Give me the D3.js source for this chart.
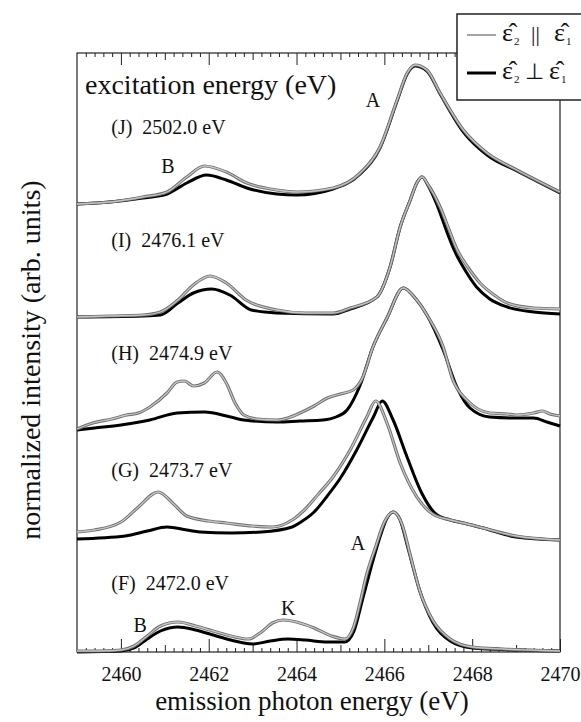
<!DOCTYPE html>
<html lang="en">
<head>
<meta charset="UTF-8">
<title>RIXS spectra</title>
<script src="https://cdn.jsdelivr.net/npm/d3@7"></script>
<style>
    html, body { margin: 0; background: #fff; overflow: hidden; }
    svg { display: block; }
    text { font-family: "Liberation Serif", "Times New Roman", serif; fill: #111; }
</style>
</head>
<body>
<div id="fig"></div>
<script>
    const width = 581, height = 722;

    // x axis
    const energyDomain = [2459, 2470];
    const majorTicks = [2460, 2462, 2464, 2466, 2468, 2470];
    const midTicks = [2461, 2463, 2465, 2467, 2469];

    // spectra, bottom to top
    const spectra = ["F", "G", "H", "I", "J"];
    const excitation = ["2472.0", "2473.7", "2474.9", "2476.1", "2502.0"];
    const baselines = [0, 1.12, 2.22, 3.35, 4.48];

    // [emission energy (eV), intensity above baseline] -- parallel (gray) / perpendicular (black)
    const fPar = [[2459.0,0.01],[2459.5,0.01],[2460.0,0.02],[2460.3,0.06],[2460.6,0.16],[2460.9,0.26],[2461.3,0.30],[2461.7,0.26],[2462.1,0.21],[2462.5,0.16],[2462.9,0.13],[2463.2,0.20],[2463.45,0.29],[2463.7,0.32],[2464.0,0.30],[2464.4,0.24],[2464.8,0.16],[2465.1,0.13],[2465.3,0.25],[2465.45,0.50],[2465.6,0.78],[2465.8,1.05],[2466.0,1.30],[2466.2,1.40],[2466.4,1.28],[2466.6,0.95],[2466.8,0.62],[2467.1,0.32],[2467.5,0.13],[2468.0,0.05],[2468.7,0.03],[2469.3,0.02],[2470.0,0.01]];
    const fPerp = [[2459.0,0.0],[2460.0,0.01],[2460.3,0.04],[2460.6,0.13],[2460.9,0.21],[2461.3,0.25],[2461.7,0.22],[2462.1,0.17],[2462.5,0.12],[2463.0,0.08],[2463.4,0.11],[2463.8,0.13],[2464.2,0.12],[2464.7,0.10],[2465.1,0.10],[2465.3,0.20],[2465.5,0.52],[2465.7,0.85],[2465.9,1.15],[2466.05,1.33],[2466.2,1.40],[2466.35,1.33],[2466.55,1.02],[2466.8,0.62],[2467.1,0.30],[2467.5,0.11],[2468.0,0.04],[2469.0,0.02],[2470.0,0.01]];

    const gPar = [[2459.0,0.08],[2459.4,0.10],[2460.0,0.18],[2460.4,0.33],[2460.85,0.48],[2461.2,0.36],[2461.5,0.24],[2462.0,0.19],[2462.4,0.17],[2463.0,0.14],[2463.45,0.13],[2463.9,0.20],[2464.2,0.31],[2464.5,0.46],[2464.83,0.63],[2465.22,0.90],[2465.6,1.23],[2465.8,1.39],[2466.06,1.17],[2466.36,0.77],[2466.74,0.43],[2467.1,0.26],[2467.5,0.20],[2467.8,0.17],[2468.25,0.12],[2469.0,0.04],[2470.0,0.0]];
    const gPerp = [[2459.0,0.01],[2460.1,0.04],[2460.6,0.09],[2461.05,0.13],[2461.5,0.10],[2461.8,0.08],[2462.5,0.07],[2463.2,0.08],[2463.9,0.13],[2464.1,0.18],[2464.4,0.28],[2464.7,0.44],[2465.0,0.62],[2465.37,0.90],[2465.75,1.23],[2465.95,1.39],[2466.2,1.20],[2466.5,0.85],[2466.85,0.47],[2467.15,0.27],[2467.5,0.20],[2467.8,0.17],[2468.25,0.12],[2469.0,0.03],[2470.0,0.0]];

    const hPar = [[2459.0,0.01],[2459.36,0.07],[2459.8,0.11],[2460.13,0.15],[2460.4,0.17],[2460.66,0.23],[2461.05,0.37],[2461.28,0.48],[2461.45,0.49],[2461.65,0.44],[2461.9,0.47],[2462.19,0.58],[2462.4,0.47],[2462.6,0.27],[2462.8,0.15],[2463.1,0.11],[2463.55,0.10],[2463.8,0.12],[2464.08,0.17],[2464.4,0.24],[2464.7,0.32],[2465.0,0.36],[2465.29,0.40],[2465.5,0.52],[2465.74,0.83],[2466.06,1.12],[2466.43,1.42],[2466.7,1.32],[2466.97,1.15],[2467.34,0.83],[2467.56,0.50],[2467.88,0.30],[2468.4,0.17],[2468.8,0.16],[2469.0,0.15],[2469.4,0.17],[2469.6,0.19],[2469.77,0.16],[2470.0,0.14]];
    const hPerp = [[2459.0,0.0],[2459.4,0.02],[2460.0,0.05],[2460.66,0.10],[2461.28,0.17],[2461.9,0.18],[2462.5,0.13],[2462.8,0.10],[2463.55,0.08],[2464.08,0.09],[2464.6,0.10],[2464.9,0.13],[2465.15,0.20],[2465.45,0.45],[2465.74,0.83],[2466.06,1.12],[2466.43,1.42],[2466.7,1.32],[2466.97,1.15],[2467.34,0.80],[2467.65,0.43],[2467.95,0.22],[2468.4,0.13],[2469.0,0.12],[2469.4,0.12],[2469.7,0.08],[2470.0,0.04]];

    const iPar = [[2459.0,0.0],[2459.75,0.01],[2460.5,0.02],[2460.9,0.05],[2461.3,0.17],[2461.65,0.32],[2462.03,0.41],[2462.4,0.34],[2462.85,0.17],[2463.55,0.07],[2464.2,0.04],[2464.83,0.04],[2465.22,0.09],[2465.83,0.20],[2466.13,0.50],[2466.36,0.90],[2466.59,1.17],[2466.75,1.35],[2466.86,1.40],[2467.0,1.32],[2467.27,1.10],[2467.45,0.90],[2467.66,0.67],[2467.9,0.50],[2468.18,0.34],[2468.5,0.22],[2468.8,0.14],[2469.4,0.09],[2470.0,0.08]];
    const iPerp = [[2459.0,0.0],[2460.5,0.01],[2460.9,0.02],[2461.3,0.14],[2461.65,0.24],[2462.07,0.28],[2462.48,0.22],[2462.97,0.07],[2463.55,0.04],[2464.83,0.03],[2465.22,0.08],[2465.83,0.20],[2466.13,0.50],[2466.36,0.90],[2466.59,1.17],[2466.75,1.35],[2466.86,1.40],[2467.0,1.31],[2467.2,1.12],[2467.4,0.88],[2467.6,0.66],[2467.85,0.46],[2468.1,0.30],[2468.4,0.18],[2468.8,0.10],[2469.4,0.05],[2470.0,0.03]];

    const jPar = [[2459.0,0.0],[2459.75,0.02],[2460.5,0.07],[2461.05,0.12],[2461.5,0.27],[2461.9,0.38],[2462.4,0.32],[2462.87,0.21],[2463.55,0.14],[2464.0,0.12],[2464.83,0.16],[2465.45,0.31],[2465.9,0.57],[2466.29,1.04],[2466.52,1.31],[2466.7,1.39],[2466.97,1.34],[2467.27,1.11],[2467.8,0.74],[2468.34,0.51],[2469.02,0.34],[2470.0,0.12]];
    const jPerp = [[2459.0,0.0],[2459.75,0.02],[2460.5,0.06],[2461.05,0.10],[2461.5,0.21],[2461.95,0.29],[2462.4,0.24],[2462.87,0.16],[2463.55,0.10],[2464.0,0.09],[2464.83,0.15],[2465.45,0.30],[2465.9,0.56],[2466.29,1.03],[2466.52,1.30],[2466.7,1.38],[2466.97,1.33],[2467.27,1.10],[2467.8,0.72],[2468.34,0.49],[2469.02,0.33],[2470.0,0.11]];

    const parSeries = [fPar, gPar, hPar, iPar, jPar];
    const perpSeries = [fPerp, gPerp, hPerp, iPerp, jPerp];

    // peak labels: [text, energy, intensity]
    const peakLabels = [["A", 2465.74, 5.52], ["B", 2461.07, 4.86], ["B", 2460.44, 0.27], ["K", 2463.81, 0.44], ["A", 2465.4, 1.09]];

    // layout
    const plot = {left: 77, right: 560, top: 53, bottom: 652};
    const labelEnergy = 2459.78;
    const labelLift = [0.69, 0.70, 0.77, 0.77, 0.77];

    const svg = d3.select("#fig").append("svg")
        .attr("width", width)
        .attr("height", height)
        .attr("viewBox", [0, 0, width, height]);

    const x = d3.scaleLinear().domain(energyDomain).range([plot.left, plot.right]);
    const y = d3.scaleLinear().domain([0, 5.99]).range([plot.bottom, plot.top]);

    // ticks: minor every 0.2 eV
    const minorTicks = d3.range(1, 55).map(i => 2459 + i * 0.2).filter(v => Math.abs(v - Math.round(v)) > 0.01);

    function tickLayer(axisFn, ty, vals, size, labels) {
        const g = svg.append("g")
            .attr("transform", "translate(0," + ty + ")")
            .call(axisFn(x).tickValues(vals).tickSizeInner(-size).tickSizeOuter(0)
                .tickFormat(labels ? d3.format("d") : ""));
        g.select(".domain").remove();
        g.selectAll(".tick line").attr("stroke", "#222").attr("stroke-width", 1);
        return g;
    }

    tickLayer(d3.axisBottom, plot.bottom, minorTicks, 4, false);
    tickLayer(d3.axisBottom, plot.bottom, midTicks, 7, false);
    const xb = tickLayer(d3.axisBottom, plot.bottom, majorTicks, 13, true);
    xb.selectAll(".tick text")
        .attr("y", 15)
        .attr("dy", "0.71em")
        .style("font-family", "'Liberation Serif', serif")
        .style("font-size", "20px")
        .attr("fill", "#111");

    tickLayer(d3.axisTop, plot.top, minorTicks, 4, false);
    tickLayer(d3.axisTop, plot.top, midTicks, 7, false);
    tickLayer(d3.axisTop, plot.top, majorTicks, 12, false);

    // frame
    svg.append("rect")
        .attr("x", plot.left)
        .attr("y", plot.top)
        .attr("width", plot.right - plot.left)
        .attr("height", plot.bottom - plot.top)
        .attr("fill", "none")
        .attr("stroke", "#222")
        .attr("stroke-width", 1.2);

    // curves
    const curves = svg.append("g");
    for (let i = 0; i < spectra.length; i++) {
        const line = d3.line()
            .curve(d3.curveMonotoneX)
            .x(d => x(d[0]))
            .y(d => y(d[1] + baselines[i]));

        curves.append("path")
            .datum(perpSeries[i])
            .attr("fill", "none")
            .attr("stroke", "#000")
            .attr("stroke-width", 3)
            .attr("d", line);

        curves.append("path")
            .datum(parSeries[i])
            .attr("fill", "none")
            .attr("stroke", "#6e6e6e")
            .attr("stroke-width", 3.2)
            .attr("d", line);
        curves.append("path")
            .datum(parSeries[i])
            .attr("fill", "none")
            .attr("stroke", "#c4c4c4")
            .attr("stroke-width", 1.3)
            .attr("d", line);

        svg.append("text")
            .attr("x", x(labelEnergy))
            .attr("y", y(baselines[i] + labelLift[i]))
            .attr("dy", "0.35em")
            .style("font-size", "20px")
            .attr("xml:space", "preserve")
            .text("(" + spectra[i] + ")  " + excitation[i] + " eV");
    }

    peakLabels.forEach(p => {
        svg.append("text")
            .attr("x", x(p[1]))
            .attr("y", y(p[2]))
            .attr("dy", "0.35em")
            .attr("text-anchor", "middle")
            .style("font-size", "20px")
            .text(p[0]);
    });

    svg.append("text")
        .attr("x", plot.left + 8)
        .attr("y", 84)
        .attr("dy", "0.35em")
        .style("font-size", "28px")
        .text("excitation energy (eV)");

    // axis titles
    svg.append("text")
        .attr("x", 312)
        .attr("y", 710)
        .attr("text-anchor", "middle")
        .style("font-size", "27px")
        .text("emission photon energy (eV)");

    svg.append("text")
        .attr("transform", "translate(30,360) rotate(-90)")
        .attr("text-anchor", "middle")
        .attr("dy", "0.35em")
        .style("font-size", "28px")
        .text("normalized intensity (arb. units)");

    // legend (box runs off the right edge)
    const legend = svg.append("g");
    legend.append("rect")
        .attr("x", 457)
        .attr("y", 14)
        .attr("width", 200)
        .attr("height", 86)
        .attr("fill", "#fff")
        .attr("stroke", "none");
    legend.append("path")
        .attr("d", "M620,14H457V100H620")
        .attr("fill", "none")
        .attr("stroke", "#222")
        .attr("stroke-width", 1.5);

    const legendRows = [{sym: "||", cy: 35, color: "#9a9a9a", w: 1.8, symX: 531, eps2X: 554},
                        {sym: "\u22A5", cy: 73, color: "#000", w: 3, symX: 525, eps2X: 549}];
    legendRows.forEach(r => {
        legend.append("line")
            .attr("x1", 467).attr("x2", 496)
            .attr("y1", r.cy).attr("y2", r.cy)
            .attr("stroke", r.color)
            .attr("stroke-width", r.w);
        const t = legend.append("text")
            .attr("y", r.cy + 6)
            .style("font-size", "26px");
        t.append("tspan").attr("x", 502).text("\u03B5\u0302");
        t.append("tspan").attr("x", 514).attr("dy", 4).style("font-size", "11px").text("2");
        t.append("tspan").attr("x", r.symX).attr("dy", -4).style("font-size", "22px").text(r.sym);
        t.append("tspan").attr("x", r.eps2X).text("\u03B5\u0302");
        t.append("tspan").attr("x", r.eps2X + 12).attr("dy", 4).style("font-size", "11px").text("1");
    });
</script>
</body>
</html>
